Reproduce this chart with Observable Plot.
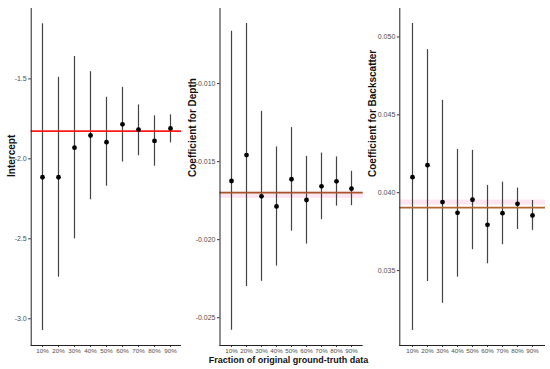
<!DOCTYPE html>
<html>
<head>
<meta charset="utf-8">
<script src="https://cdn.jsdelivr.net/npm/d3@7"></script>
<script src="https://cdn.jsdelivr.net/npm/@observablehq/plot@0.6"></script>
<style>
  html, body { margin: 0; padding: 0; background: #fff; }
  #chart { position: relative; width: 550px; height: 369px; overflow: hidden; font-family: "Liberation Sans", Arial, sans-serif; }
  #chart > div.panel { position: absolute; top: 0; }
</style>
</head>
<body>
<div id="chart"></div>
<script>
const categories = ["10%", "20%", "30%", "40%", "50%", "60%", "70%", "80%", "90%"];

// Intercept
const interceptEst = [-2.115, -2.115, -1.93, -1.854, -1.896, -1.784, -1.817, -1.888, -1.81];
const interceptLo  = [-3.073, -2.74, -2.50, -2.256, -2.171, -2.02, -1.981, -2.046, -1.90];
const interceptHi  = [-1.156, -1.49, -1.36, -1.455, -1.615, -1.553, -1.663, -1.731, -1.725];
const interceptRef = -1.827;
const interceptTicks = [-3.0, -2.5, -2.0, -1.5];

// Depth
const depthEst = [-0.01624, -0.01458, -0.01722, -0.01787, -0.01613, -0.01746, -0.01658, -0.01626, -0.01673];
const depthLo  = [-0.02581, -0.0230, -0.02267, -0.02169, -0.01945, -0.02028, -0.01872, -0.01785, -0.01782];
const depthHi  = [-0.00665, -0.00615, -0.01178, -0.01406, -0.01282, -0.01466, -0.01445, -0.0147, -0.01562];
const depthRef = -0.01699;
const depthBand = [-0.01735, -0.01695];
const depthTicks = [-0.025, -0.020, -0.015, -0.010];

// Backscatter
const backEst = [0.0410, 0.04177, 0.0394, 0.03871, 0.03955, 0.03794, 0.03869, 0.03929, 0.03854];
const backLo  = [0.03115, 0.0343, 0.0329, 0.03458, 0.03634, 0.03544, 0.03666, 0.03764, 0.03758];
const backHi  = [0.05086, 0.04919, 0.04593, 0.04278, 0.04272, 0.04047, 0.04068, 0.0403, 0.0395];
const backRef = 0.03904;
const backBand = [0.0392, 0.03953];
const backTicks = [0.035, 0.040, 0.045, 0.050];

const xTitle = "Fraction of original ground-truth data";

const FONT = "Liberation Sans, Arial, sans-serif";
const H = 369, W = 185, MT = 8, MB = 24;

function panel({left, ml, mr, est, lo, hi, ref, refColor, band, ticks, fmt, domain, title, titleDx, extra}) {
  const data = categories.map((c, i) => ({c, est: est[i], lo: lo[i], hi: hi[i]}));
  const marks = [];
  if (band) marks.push(Plot.rect([band], {y1: d => d[0], y2: d => d[1], fill: "#fde3ef", fillOpacity: 0.9}));
  marks.push(
    Plot.ruleX(data, {x: "c", y1: "lo", y2: "hi", stroke: "#444", strokeWidth: 1.2}),
    Plot.ruleY([ref], {stroke: refColor, strokeWidth: 1.8}),
    Plot.dot(data, {x: "c", y: "est", r: 2.4, fill: "black", stroke: "none"}),
    Plot.axisY(ticks, {tickFormat: fmt, tickSize: 2.5, tickPadding: 2, fontSize: 7, stroke: "#333", fill: "#4d4d4d"}),
    Plot.axisX({tickSize: 2, tickPadding: 1, fontSize: 6.2, stroke: "#333", fill: "#4d4d4d"}),
    Plot.ruleY([domain[0]], {stroke: "#222", strokeWidth: 1}),
    Plot.frame({anchor: "left", stroke: "#222", strokeWidth: 1}),
    Plot.text([title], {frameAnchor: "left", dx: titleDx, rotate: -90, fontSize: 10, fontWeight: "bold", fill: "#111", fontFamily: FONT})
  );
  if (extra) marks.push(extra);
  const p = Plot.plot({
    width: W, height: H,
    marginLeft: ml, marginRight: mr, marginTop: MT, marginBottom: MB,
    style: {fontFamily: FONT, background: "transparent", overflow: "visible"},
    x: {type: "point", domain: categories, padding: 0.6, label: null},
    y: {domain, label: null},
    marks
  });
  const div = document.createElement("div");
  div.className = "panel";
  div.style.left = left + "px";
  div.appendChild(p);
  document.getElementById("chart").appendChild(div);
}

panel({left: 0, ml: 30.7, mr: 4, est: interceptEst, lo: interceptLo, hi: interceptHi, ref: interceptRef, refColor: "#ff1a1a",
  band: null, ticks: interceptTicks, fmt: d => d.toFixed(1), domain: [-3.167, -1.06], title: "Intercept", titleDx: -19});

panel({left: 180, ml: 39.5, mr: 2.3, est: depthEst, lo: depthLo, hi: depthHi, ref: depthRef, refColor: "#a8522a",
  band: depthBand, ticks: depthTicks, fmt: d => d.toFixed(3), domain: [-0.02678, -0.00519], title: "Coefficient for Depth", titleDx: -27.5,
  extra: Plot.text([xTitle], {frameAnchor: "bottom", dy: 17, dx: -3, fontSize: 9, fontWeight: "bold", fill: "#111", fontFamily: FONT})});

panel({left: 365, ml: 34.3, mr: 5, est: backEst, lo: backLo, hi: backHi, ref: backRef, refColor: "#b0662c",
  band: backBand, ticks: backTicks, fmt: d => d.toFixed(3), domain: [0.03019, 0.05183], title: "Coefficient for Backscatter", titleDx: -27.5});
</script>
</body>
</html>
